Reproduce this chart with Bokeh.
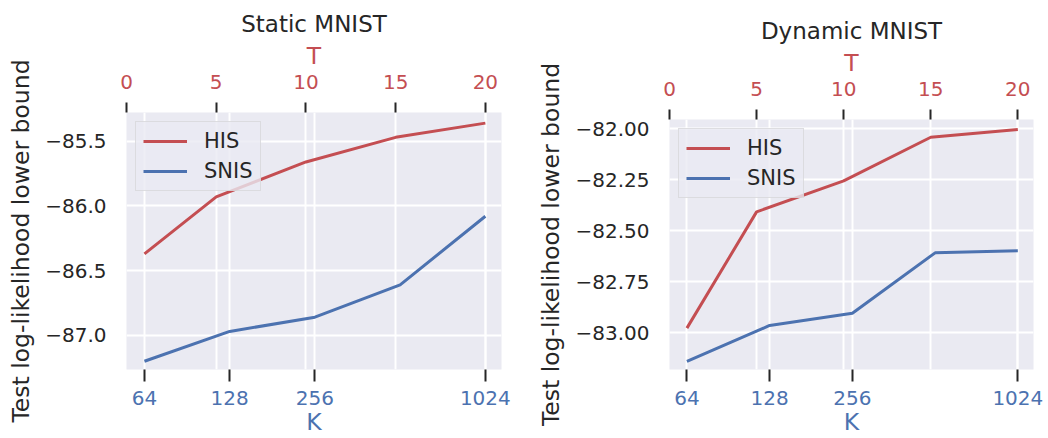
import math
from bokeh.plotting import figure
from bokeh.models import (Range1d, LogAxis, LogScale, FixedTicker, Grid,
                          CustomJSTickFormatter)
from bokeh.layouts import row
from bokeh.embed import file_html
from bokeh.resources import INLINE

# ---------------- data ----------------
T_VALUES = [1, 5, 10, 15, 20]            # HIS is plotted against T (top axis)
K_VALUES = [64, 128, 256, 512, 1024]     # SNIS is plotted against K (bottom axis, log)
T_TICKS = [0, 5, 10, 15, 20]
K_TICKS = [64, 128, 256, 1024]
K_LABELS = ["64", "128", "256", "1024"]

STATIC_HIS = [-86.37, -85.93, -85.66, -85.47, -85.36]
STATIC_SNIS = [-87.20, -86.97, -86.86, -86.61, -86.08]
DYNAMIC_HIS = [-82.977, -82.407, -82.255, -82.041, -82.003]
DYNAMIC_SNIS = [-83.14, -82.964, -82.904, -82.608, -82.598]

STATIC_YTICKS = [-87.0, -86.5, -86.0, -85.5]
DYNAMIC_YTICKS = [-83.0, -82.75, -82.5, -82.25, -82.0]

# ---------------- style ----------------
RED = "#C44E52"
BLUE = "#4C72B0"
DARK = "#262626"
BG = "#EAEAF2"
FONT = "DejaVu Sans"
TICK_FS = "20px"
LABEL_FS = "23.5px"
TITLE_FS = "23px"


def style_axis(ax, color_labels, color_title, tick_out):
    ax.axis_line_color = None
    ax.major_tick_line_color = DARK
    ax.major_tick_line_width = 2
    ax.major_tick_out = tick_out
    ax.major_tick_in = 0
    ax.minor_tick_line_color = None
    ax.major_label_text_font = FONT
    ax.major_label_text_font_size = TICK_FS
    ax.major_label_text_color = color_labels
    ax.axis_label_text_font = FONT
    ax.axis_label_text_font_size = LABEL_FS
    ax.axis_label_text_font_style = "normal"
    ax.axis_label_text_color = color_title


def make_panel(title, his, snis, y_lo, y_hi, y_ticks, decimals,
               width, height, b_left, b_right, b_top, b_bottom):
    t_lo, t_hi = 0.0, 20.9
    slope = (T_VALUES[-1] - T_VALUES[0]) / (math.log2(K_VALUES[-1]) - math.log2(K_VALUES[0]))
    k_lo = K_VALUES[0] * 2 ** ((t_lo - T_VALUES[0]) / slope)
    k_hi = K_VALUES[0] * 2 ** ((t_hi - T_VALUES[0]) / slope)

    p = figure(width=width, height=height,
               x_range=Range1d(t_lo, t_hi), y_range=Range1d(y_lo, y_hi),
               x_axis_location="above", output_backend="svg",
               toolbar_location=None, tools="",
               min_border_left=b_left, min_border_right=b_right,
               min_border_top=b_top, min_border_bottom=b_bottom)
    if "frame_align" in p.properties():
        p.frame_align = False
    p.extra_x_ranges = {"K": Range1d(k_lo, k_hi)}
    p.extra_x_scales = {"K": LogScale()}

    p.background_fill_color = BG
    p.border_fill_color = "white"
    p.outline_line_color = None

    # title
    p.title.text = title
    p.title.align = "center"
    p.title.text_font = FONT
    p.title.text_font_size = TITLE_FS
    p.title.text_font_style = "normal"
    p.title.text_color = DARK
    p.title.standoff = 3

    # top T axis
    tax = p.xaxis[0]
    tax.ticker = FixedTicker(ticks=T_TICKS)
    tax.axis_label = "T"
    style_axis(tax, RED, RED, 10)
    tax.major_label_standoff = 14
    tax.axis_label_standoff = 2

    # bottom K axis (log)
    kax = LogAxis(x_range_name="K", ticker=FixedTicker(ticks=K_TICKS),
                  axis_label="K")
    kax.formatter = CustomJSTickFormatter(
        args=dict(kvals=K_TICKS, klabels=K_LABELS),
        code="const i = kvals.indexOf(Math.round(tick)); return i >= 0 ? klabels[i] : String(Math.round(tick));")
    style_axis(kax, BLUE, BLUE, 12)
    kax.major_label_standoff = 9
    kax.axis_label_standoff = 0
    p.add_layout(kax, "below")

    # y axis
    yax = p.yaxis[0]
    yax.ticker = FixedTicker(ticks=y_ticks)
    yax.formatter = CustomJSTickFormatter(
        code="return (tick < 0 ? '\u2212' : '') + Math.abs(tick).toFixed(%d);" % decimals)
    yax.axis_label = "Test log-likelihood lower bound"
    style_axis(yax, DARK, DARK, 0)
    yax.major_label_standoff = 20
    yax.axis_label_standoff = 7

    # grids
    p.grid.grid_line_color = "white"
    p.grid.grid_line_width = 2
    kgrid = Grid(dimension=0, ticker=FixedTicker(ticks=K_TICKS), x_range_name="K",
                 grid_line_color="white", grid_line_width=2)
    p.add_layout(kgrid, "center")

    # lines
    p.line(T_VALUES, his, color=RED, line_width=3, legend_label="HIS")
    p.line(K_VALUES, snis, color=BLUE, line_width=3, legend_label="SNIS",
           x_range_name="K")

    lg = p.legend[0]
    lg.location = "top_left"
    lg.margin = 9
    lg.padding = 7
    lg.spacing = 6
    lg.glyph_height = 24
    lg.glyph_width = 44
    lg.label_height = 24
    lg.label_standoff = 17
    lg.label_text_font = FONT
    lg.label_text_font_size = "21px"
    lg.label_text_color = DARK
    lg.background_fill_color = BG
    lg.background_fill_alpha = 0.8
    lg.border_line_color = "#CCCCCC"
    lg.border_line_width = 1.5
    return p


p1 = make_panel("Static MNIST", STATIC_HIS, STATIC_SNIS, -87.264, -85.278,
                STATIC_YTICKS, 1, 528, 438, 126, 27, 112, 69)
p2 = make_panel("Dynamic MNIST", DYNAMIC_HIS, DYNAMIC_SNIS, -83.18, -81.954,
                DYNAMIC_YTICKS, 2, 520, 438, 141, 15, 119, 69)

layout = row(p1, p2)
open("out.html", "w").write(file_html(layout, INLINE))
